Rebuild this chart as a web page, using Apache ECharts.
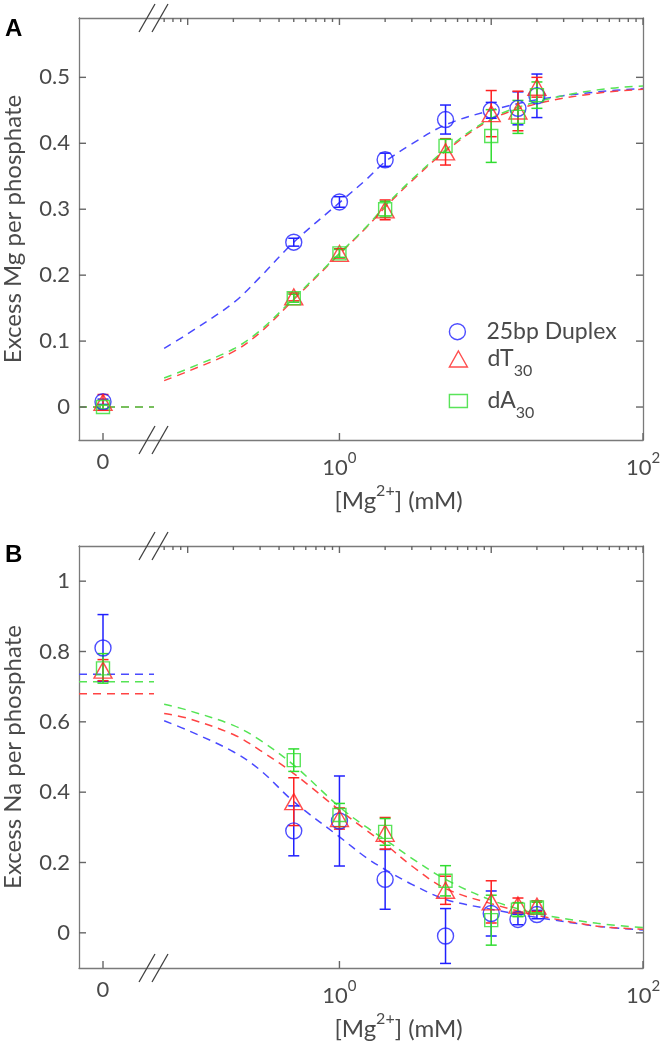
<!DOCTYPE html>
<html><head><meta charset="utf-8">
<script src="https://cdn.jsdelivr.net/npm/echarts@6/dist/echarts.min.js"></script>
<style>html,body{margin:0;padding:0;background:#fff}#c{width:661px;height:1042px}</style>
</head><body><div id="c"></div>
<script>
// ---------------- data ----------------
const concX = [0, 0.5, 1, 2, 5, 10, 15, 20];            // [Mg2+] (mM); 0 is drawn in the left (broken) section

const mgDuplex    = [0.008, 0.25, 0.311, 0.375, 0.436, 0.45, 0.453, 0.472];
const mgDuplexErr = [0.004, 0.006, 0.008, 0.01, 0.022, 0.012, 0.025, 0.033];
const mgDT        = [0.007, 0.167, 0.233, 0.299, 0.387, 0.445, 0.449, 0.485];
const mgDTErr     = [0.012, 0.006, 0.007, 0.015, 0.02, 0.035, 0.03, 0.015];
const mgDA        = [0.0, 0.165, 0.233, 0.30, 0.396, 0.411, 0.44, 0.473];
const mgDAErr     = [0.003, 0.006, 0.006, 0.012, 0.01, 0.04, 0.025, 0.02];

const naDuplex    = [0.81, 0.29, 0.318, 0.152, -0.009, 0.055, 0.038, 0.052];
const naDuplexErr = [0.095, 0.071, 0.128, 0.085, 0.078, 0.064, 0.015, 0.012];
const naDT        = [0.747, 0.373, 0.325, 0.283, 0.121, 0.088, 0.079, 0.076];
const naDTErr     = [0.03, 0.068, 0.03, 0.045, 0.04, 0.06, 0.02, 0.015];
const naDA        = [0.752, 0.491, 0.335, 0.287, 0.148, 0.036, 0.066, 0.072];
const naDAErr     = [0.042, 0.032, 0.033, 0.038, 0.043, 0.071, 0.02, 0.015];

// fitted curves
const fitX         = [0.07, 0.1, 0.2, 0.3, 0.5, 1, 1.5, 2, 3, 5, 10, 20, 50, 100];
const fitMgDuplex  = [0.089, 0.111, 0.158, 0.197, 0.25, 0.31, 0.345, 0.372, 0.399, 0.428, 0.45, 0.466, 0.478, 0.483];
const fitMgDT      = [0.040, 0.054, 0.084, 0.113, 0.163, 0.232, 0.272, 0.303, 0.343, 0.388, 0.436, 0.46, 0.476, 0.482];
const fitMgDA      = [0.044, 0.058, 0.088, 0.116, 0.165, 0.233, 0.273, 0.305, 0.345, 0.39, 0.438, 0.463, 0.481, 0.487];
const fitNaDuplex  = [0.603, 0.576, 0.515, 0.463, 0.373, 0.273, 0.214, 0.18, 0.138, 0.095, 0.067, 0.044, 0.019, 0.008];
const fitNaDT      = [0.624, 0.61, 0.564, 0.519, 0.453, 0.349, 0.292, 0.252, 0.19, 0.126, 0.083, 0.05, 0.019, 0.01];
const fitNaDA      = [0.65, 0.633, 0.59, 0.548, 0.477, 0.358, 0.301, 0.265, 0.212, 0.152, 0.093, 0.055, 0.027, 0.015];
// fitted value in the zero section
const fitZeroMg = [0, 0, 0];            // duplex, dT30, dA30
const fitZeroNa = [0.735, 0.680, 0.714];

const seriesNames = ['25bp Duplex', 'dT30', 'dA30'];
const yTicksMg = [0, 0.1, 0.2, 0.3, 0.4, 0.5];
const yTicksNa = [0, 0.2, 0.4, 0.6, 0.8, 1];
const xZeroTicks = [0];
const xLabelTicks = [1, 100];
const xMajorTicks = [0.1, 1, 10, 100];
const xMinorTicks = [0.07, 0.08, 0.09, 0.2, 0.3, 0.4, 0.5, 0.6, 0.7, 0.8, 0.9, 2, 3, 4, 5, 6, 7, 8, 9, 20, 30, 40, 50, 60, 70, 80, 90];

// ---------------- layout / style ----------------
const GRAY = '#7a7a7a', TICK = '#666666', TXT = '#4a4a4a';
const FONT = 'Lato';
const LEFT = 79, BRK = 154, RIGHT = 643, PH = 422;
const TOPS = [18, 546];
const ZMIN = -1, ZMAX = 2.125;
const LOGMIN = 0.06, LOGMAX = 100;
const COLORS = ['#2020ff', '#ff2020', '#30dd30'];
const LCOLORS = ['#4a4aff', '#ff4444', '#55e455'];
const SYMBOLS = ['circle', 'triangle', 'rect'];
const SIZES = [16, [18, 16], 13];

const panels = [
  {sets: [[mgDuplex, mgDuplexErr, fitMgDuplex], [mgDT, mgDTErr, fitMgDT], [mgDA, mgDAErr, fitMgDA]],
   zero: fitZeroMg, ymin: -0.05, ymax: 0.59, ticks: yTicksMg, title: 'Excess Mg per phosphate'},
  {sets: [[naDuplex, naDuplexErr, fitNaDuplex], [naDT, naDTErr, fitNaDT], [naDA, naDAErr, fitNaDA]],
   zero: fitZeroNa, ymin: -0.1, ymax: 1.1, ticks: yTicksNa, title: 'Excess Na per phosphate'}
];

const grid = [], xAxis = [], yAxis = [], series = [], graphic = [], tickSpecs = [];
const lineOn = () => ({show: true, onZero: false, lineStyle: {color: GRAY, width: 1.3}});
const noTick = {show: false}, noLabel = {show: false}, noSplit = {show: false};
const supRich = {
  b: {fontFamily: FONT, fontSize: 22, color: TXT, lineHeight: 24, padding: [6, 0, 0, 0], verticalAlign: 'top'},
  sup: {fontFamily: FONT, fontSize: 15, color: TXT, lineHeight: 16, verticalAlign: 'top'}
};

// frame axis (border line + optional labels)
function frameAxis(gridIndex, type, position, min, max, extra) {
  return Object.assign({gridIndex, type, position, min, max, axisLine: lineOn(), axisTick: noTick,
    axisLabel: noLabel, splitLine: noSplit}, type === 'log' ? {logBase: 10} : {}, extra || {});
}

panels.forEach((P, p) => {
  const top = TOPS[p];
  const g0 = grid.length;
  grid.push({left: LEFT, top: top, width: BRK - LEFT, height: PH, outerBoundsMode: 'none'});
  const g1 = grid.length;
  grid.push({left: BRK, top: top, width: RIGHT - BRK, height: PH, outerBoundsMode: 'none'});

  // ---- x axes, zero section
  const xZero = xAxis.length;
  xAxis.push(frameAxis(g0, 'value', 'bottom', ZMIN, ZMAX, {
    axisLabel: {customValues: xZeroTicks, margin: 11, fontFamily: FONT, fontSize: 22, color: TXT}}));
  xAxis.push(frameAxis(g0, 'value', 'top', ZMIN, ZMAX));
  // ---- x axes, log section
  const xLog = xAxis.length;
  xAxis.push(frameAxis(g1, 'log', 'bottom', LOGMIN, LOGMAX, {
    axisLabel: {customValues: xLabelTicks, margin: 11, rich: supRich,
      formatter: v => '{b|10}{sup|' + Math.round(Math.log10(v)) + '}'},
    name: '{a|[Mg}{s|2+}{a|] (mM)}', nameLocation: 'middle', nameGap: 43, nameMoveOverlap: false,
    nameTextStyle: {rich: {
      a: {fontFamily: FONT, fontSize: 24, color: TXT, lineHeight: 28, padding: [6, 0, 0, 0], verticalAlign: 'top'},
      s: {fontFamily: FONT, fontSize: 16, color: TXT, lineHeight: 18, verticalAlign: 'top'}}}}));
  xAxis.push(frameAxis(g1, 'log', 'top', LOGMIN, LOGMAX));

  // ---- y axes
  const yZero = yAxis.length;
  yAxis.push(frameAxis(g0, 'value', 'left', P.ymin, P.ymax, {
    axisLabel: {customValues: P.ticks, margin: 9, fontFamily: FONT, fontSize: 22, color: TXT, formatter: v => String(v)},
    name: P.title, nameLocation: 'middle', nameRotate: 90, nameGap: 54, nameMoveOverlap: false,
    nameTextStyle: {fontFamily: FONT, fontSize: 24, color: TXT}}));
  const yLog = yAxis.length;
  yAxis.push(frameAxis(g1, 'value', 'right', P.ymin, P.ymax));

  // ---- tick marks (inside the frame)
  const zeroSec = {x: xZero, y: yZero, log: false, x0: LEFT, x1: BRK, top, ymin: P.ymin, ymax: P.ymax};
  const logSec = {x: xLog, y: yLog, log: true, x0: BRK, x1: RIGHT, top, ymin: P.ymin, ymax: P.ymax};
  tickSpecs.push({sec: zeroSec, values: xZeroTicks, dim: 'x', edge: P.ymin, dir: -1, len: 7});
  tickSpecs.push({sec: zeroSec, values: P.ticks, dim: 'y', edge: ZMIN, dir: 1, len: 7});
  tickSpecs.push({sec: logSec, values: xLabelTicks, dim: 'x', edge: P.ymin, dir: -1, len: 7});
  tickSpecs.push({sec: logSec, values: xMajorTicks, dim: 'x', edge: P.ymax, dir: 1, len: 7});
  tickSpecs.push({sec: logSec, values: xMinorTicks, dim: 'x', edge: P.ymax, dir: 1, len: 4});
  tickSpecs.push({sec: logSec, values: P.ticks, dim: 'y', edge: LOGMAX, dir: -1, len: 7});

  P.sets.forEach((S, k) => {
    const [vals, errs, fit] = S;
    const zeroPts = [], logPts = [], zeroErr = [], logErr = [];
    concX.forEach((x, i) => {
      if (x === 0) { zeroPts.push([x, vals[i]]); zeroErr.push([x, vals[i], errs[i]]); }
      else { logPts.push([x, vals[i]]); logErr.push([x, vals[i], errs[i]]); }
    });
    const lineStyle = {color: LCOLORS[k], width: 1.5, type: [8, 6]};
    // fit lines
    series.push({type: 'line', xAxisIndex: xZero, yAxisIndex: yZero, data: [[ZMIN, P.zero[k]], [ZMAX, P.zero[k]]],
      showSymbol: false, symbol: 'none', lineStyle, z: 2, silent: true});
    series.push({type: 'line', xAxisIndex: xLog, yAxisIndex: yLog, data: fitX.map((x, i) => [x, fit[i]]),
      showSymbol: false, symbol: 'none', smooth: 0.35, lineStyle, z: 2, silent: true});
    // error bars
    const render = (params, api) => {
      const x = api.value(0), y = api.value(1), e = api.value(2);
      const t = api.coord([x, y + e]), b = api.coord([x, y - e]);
      const w = 5.5, st = {stroke: COLORS[k], lineWidth: 1.5};
      return {type: 'group', children: [
        {type: 'line', shape: {x1: t[0], y1: t[1], x2: b[0], y2: b[1]}, style: st},
        {type: 'line', shape: {x1: t[0] - w, y1: t[1], x2: t[0] + w, y2: t[1]}, style: st},
        {type: 'line', shape: {x1: b[0] - w, y1: b[1], x2: b[0] + w, y2: b[1]}, style: st}]};
    };
    series.push({type: 'custom', xAxisIndex: xZero, yAxisIndex: yZero, data: zeroErr, renderItem: render,
      encode: {x: 0, y: 1}, z: 3, silent: true});
    series.push({type: 'custom', xAxisIndex: xLog, yAxisIndex: yLog, data: logErr, renderItem: render,
      encode: {x: 0, y: 1}, z: 3, silent: true});
    // markers
    const itemStyle = {color: 'rgba(0,0,0,0)', borderColor: COLORS[k], borderWidth: 1.4};
    series.push({type: 'scatter', xAxisIndex: xZero, yAxisIndex: yZero, data: zeroPts, symbol: SYMBOLS[k],
      symbolSize: SIZES[k], itemStyle, z: 4, silent: true});
    series.push({type: 'scatter', name: p === 0 ? seriesNames[k] : undefined, xAxisIndex: xLog, yAxisIndex: yLog,
      data: logPts, symbol: SYMBOLS[k], symbolSize: SIZES[k], itemStyle, z: 4, silent: true});
  });

  // axis-break marks
  [top, top + PH].forEach(yb => {
    [147, 160].forEach(cx => {
      graphic.push({type: 'line', shape: {x1: cx - 8, y1: yb + 14, x2: cx + 8, y2: yb - 14},
        style: {stroke: '#404040', lineWidth: 1.3}, z: 10});
    });
  });
});

// panel letters
graphic.push({type: 'text', left: 5, top: 17, style: {text: 'A', font: 'bold 24px "Liberation Sans", Arial', fill: '#000'}});
graphic.push({type: 'text', left: 5, top: 543, style: {text: 'B', font: 'bold 24px "Liberation Sans", Arial', fill: '#000'}});

// legends
const legRich = {
  m: {fontFamily: FONT, fontSize: 23, color: TXT, lineHeight: 24, padding: [0, 0, 0, 15], verticalAlign: 'top'},
  s: {fontFamily: FONT, fontSize: 16, color: TXT, lineHeight: 16, padding: [16, 0, 0, 0], verticalAlign: 'top'}
};
const legFmt = n => n === '25bp Duplex' ? '{m|25bp Duplex}' : '{m|' + n.slice(0, 2) + '}{s|' + n.slice(2) + '}';
const legTops = [319.7, 347, 389];
const legend = seriesNames.map((n, k) => ({
  data: [{name: n, icon: SYMBOLS[k]}], left: 448.7, top: legTops[k], padding: 0, orient: 'vertical',
  itemWidth: 18, itemHeight: Array.isArray(SIZES[k]) ? SIZES[k][1] : SIZES[k], symbolKeepAspect: true,
  selectedMode: false, formatter: legFmt, textStyle: {rich: legRich},
  itemStyle: {color: 'rgba(0,0,0,0)', borderColor: COLORS[k], borderWidth: 1.4}
}));

const chart = echarts.init(document.getElementById('c'), null, {renderer: 'canvas'});
chart.setOption({
  backgroundColor: '#fff', animation: false,
  grid, xAxis, yAxis, series, legend
});

// tick positions: from the chart's axes when available, checked against the section layout
function layoutPixel(sec, pair) {
  const fx = sec.log
    ? (Math.log10(pair[0]) - Math.log10(LOGMIN)) / (Math.log10(LOGMAX) - Math.log10(LOGMIN))
    : (pair[0] - ZMIN) / (ZMAX - ZMIN);
  const fy = (sec.ymax - pair[1]) / (sec.ymax - sec.ymin);
  return [sec.x0 + fx * (sec.x1 - sec.x0), sec.top + fy * PH];
}
function toPixel(sec, pair) {
  const est = layoutPixel(sec, pair);
  let pt = null;
  try { pt = chart.convertToPixel({xAxisIndex: sec.x, yAxisIndex: sec.y}, pair); } catch (e) { pt = null; }
  if (pt && isFinite(pt[0]) && isFinite(pt[1]) && Math.abs(pt[0] - est[0]) < 3 && Math.abs(pt[1] - est[1]) < 3) {
    return [pt[0], pt[1]];
  }
  return est;
}
tickSpecs.forEach(s => {
  s.values.forEach(v => {
    const pt = toPixel(s.sec, s.dim === 'x' ? [v, s.edge] : [s.edge, v]);
    const q = s.dim === 'x' ? [pt[0], pt[1] + s.dir * s.len] : [pt[0] + s.dir * s.len, pt[1]];
    graphic.push({type: 'line', z: 12,
      shape: {x1: pt[0], y1: pt[1], x2: q[0], y2: q[1]}, style: {stroke: TICK, lineWidth: 1.4}});
  });
});
chart.setOption({graphic});
</script></body></html>
